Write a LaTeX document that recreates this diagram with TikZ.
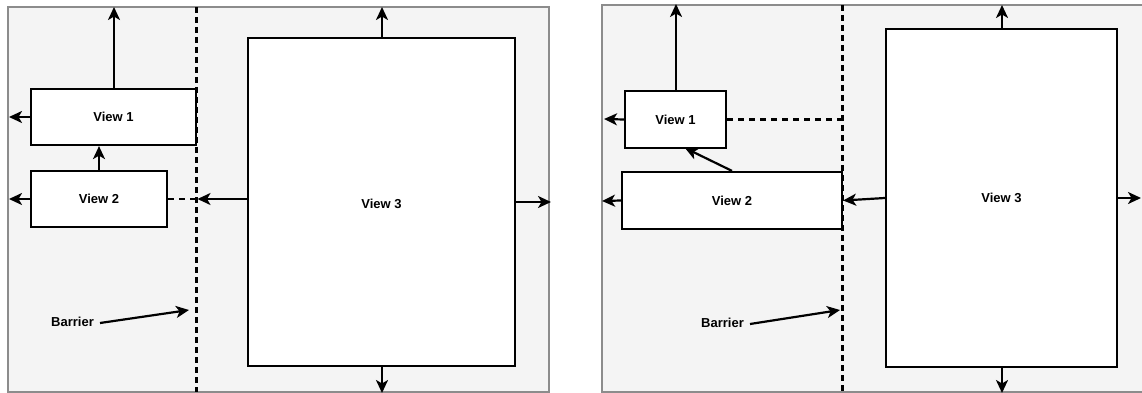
\documentclass[tikz,border=0pt]{standalone}
\usepackage{fontspec}
\setmainfont{Liberation Sans}
\usetikzlibrary{arrows.meta,calc}
\definecolor{panelfill}{HTML}{F4F4F4}
\definecolor{panelline}{HTML}{8C8C8C}
\tikzset{
  panel/.style={draw=panelline, fill=panelfill, line width=1.8pt},
  viewbox/.style={draw=black, fill=white, line width=2.2pt, inner sep=0pt, font=\bfseries\fontsize{13}{15}\selectfont},
  lbl/.style={inner sep=0pt, font=\bfseries\fontsize{13}{15}\selectfont},
  arr/.style={draw=black, line width=2.2pt, -{Stealth[length=13pt,width=12pt,inset=3.5pt]}},
  barrierline/.style={draw=black, line width=2.2pt, dash pattern=on 6pt off 4pt},
  dashlink/.style={draw=black, line width=2.2pt, dash pattern=on 6pt off 5pt},
}
\begin{document}
\begin{tikzpicture}[x=1pt,y=-1pt]
\useasboundingbox (0,0) rectangle (1142,393);
% ---------- left panel ----------
\node[panel, minimum width=541pt, minimum height=385pt, inner sep=0pt] (pL) at (278.5,199.5) {};
\coordinate (bLtop) at (196.5,7);
\coordinate (bLbot) at (196.5,392);
\draw[barrierline] (bLtop) -- (bLbot);
\node[viewbox, minimum width=165pt, minimum height=56pt] (L1) at (113.5,117) {View 1};
\node[viewbox, minimum width=136pt, minimum height=56pt] (L2) at (99,199) {View 2};
\node[viewbox, minimum width=267pt, minimum height=328pt] (L3) at (381.5,202) {};
\node[lbl] at (381.5,204) (L3t) {View 3};
\coordinate (L1up) at (114,7);
\coordinate (L1left) at (9,117);
\coordinate (L2left) at (9,199);
\coordinate (Lbar2) at (196.5,199);
\coordinate (L3up) at (382,7);
\coordinate (L3right) at (551,202);
\coordinate (L3down) at (382,393);
\draw[arr] (L1.north -| L1up) -- (L1up);
\draw[arr] (L1.west) -- (L1left);
\draw[arr] (L2.west) -- (L2left);
\draw[arr] (L2.north) -- (L2.north |- L1.south);
\draw[dashlink] (L2.east) -- (Lbar2);
\draw[arr] (L3.west |- Lbar2) -- ([xshift=1pt]Lbar2);
\draw[arr] (L3.north -| L3up) -- (L3up);
\draw[arr] (L3.east) -- (L3right);
\draw[arr] (L3.south -| L3down) -- (L3down);
\node[lbl] (Lbarlbl) at (72.5,322) {Barrier};
\coordinate (Lbarpt) at (189,310);
\draw[arr] ([xshift=6pt,yshift=-1pt]Lbarlbl.east) -- (Lbarpt);
% ---------- right panel ----------
\node[panel, minimum width=545pt, minimum height=387pt, inner sep=0pt] (pR) at (874.5,198.5) {};
\coordinate (bRtop) at (842.5,5);
\coordinate (bRbot) at (842.5,392);
\draw[barrierline] (bRtop) -- (bRbot);
\node[viewbox, minimum width=101pt, minimum height=57pt] (R1) at (675.5,119.5) {View 1};
\node[viewbox, minimum width=220pt, minimum height=57pt] (R2) at (732,200.5) {View 2};
\node[viewbox, minimum width=231pt, minimum height=338pt] (R3) at (1001.5,198) {};
\node[lbl] at (1001.5,198) (R3t) {View 3};
\coordinate (R1up) at (676,4);
\coordinate (R1left) at (604,119);
\coordinate (R2left) at (602,201);
\coordinate (Rbar1) at (842.5,119.5);
\coordinate (R1hit) at (685,148);
\coordinate (R3up) at (1002,5);
\coordinate (R3right) at (1141,198);
\coordinate (R3down) at (1002,393);
\draw[arr] (R1.north -| R1up) -- (R1up);
\draw[arr] (R1.west) -- (R1left);
\draw[arr] (R2.west) -- (R2left);
\draw[arr] (R2.north) -- (R1hit);
\draw[dashlink] (R1.east) -- (Rbar1);
\draw[arr] (R3.west) -- (R2.east);
\draw[arr] (R3.north -| R3up) -- (R3up);
\draw[arr] (R3.east) -- (R3right);
\draw[arr] (R3.south -| R3down) -- (R3down);
\node[lbl] (Rbarlbl) at (722.5,323) {Barrier};
\coordinate (Rbarpt) at (840,310);
\draw[arr] ([xshift=6pt,yshift=-1pt]Rbarlbl.east) -- (Rbarpt);
\end{tikzpicture}
\end{document}
